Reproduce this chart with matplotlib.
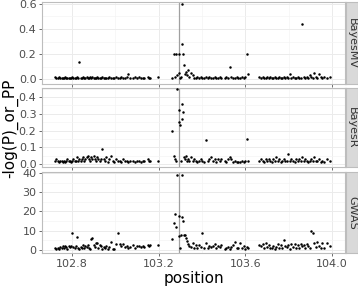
import numpy as np
import matplotlib
matplotlib.use("Agg")
import matplotlib.pyplot as plt
from matplotlib.ticker import MultipleLocator

# SNP positions (Mb), shared by the three methods
position = [
    102.722, 102.728, 102.735, 102.741, 102.745, 102.752, 102.758, 102.763, 102.768, 102.774,
    102.779, 102.785, 102.790, 102.796, 102.801, 102.806, 102.812, 102.818, 102.823, 102.829,
    102.834, 102.840, 102.846, 102.851, 102.857, 102.862, 102.868, 102.873, 102.879, 102.884,
    102.889, 102.894, 102.900, 102.905, 102.911, 102.917, 102.922, 102.928, 102.934, 102.940,
    102.946, 102.952, 102.958, 102.965, 102.972, 102.980, 102.988, 102.996, 103.004, 103.012,
    103.020, 103.028, 103.036, 103.044, 103.052, 103.060, 103.070, 103.080, 103.090,
    103.102, 103.110, 103.118, 103.126, 103.134, 103.150, 103.156, 103.162, 103.196,
    103.262, 103.270, 103.276, 103.282, 103.287, 103.292, 103.296, 103.300, 103.303, 103.306,
    103.309, 103.312, 103.316, 103.320, 103.325, 103.330, 103.336, 103.342,
    103.350, 103.357, 103.364, 103.371, 103.378, 103.386, 103.394, 103.402, 103.410, 103.418,
    103.426, 103.434, 103.442, 103.450, 103.458, 103.466, 103.474, 103.482, 103.490, 103.505,
    103.512, 103.520, 103.528, 103.536, 103.544, 103.552, 103.560, 103.568, 103.576, 103.584,
    103.592, 103.600, 103.608, 103.614,
    103.665, 103.672, 103.680, 103.687, 103.694, 103.701, 103.708, 103.715, 103.722, 103.729,
    103.736, 103.743, 103.750, 103.757, 103.764, 103.771, 103.778, 103.785, 103.792, 103.799,
    103.806, 103.813, 103.820, 103.827, 103.834, 103.841, 103.848, 103.855, 103.862, 103.869,
    103.876, 103.883, 103.890, 103.897, 103.904, 103.911, 103.918, 103.925, 103.932, 103.940,
    103.948, 103.956, 103.965, 103.975, 103.990,
]

bayes_mv = [
    0.02, 0.01, 0.01, 0.02, 0.01, 0.01, 0.01, 0.01, 0.02, 0.01,
    0.01, 0.01, 0.01, 0.01, 0.02, 0.01, 0.01, 0.01, 0.02, 0.01,
    0.14, 0.01, 0.01, 0.02, 0.01, 0.01, 0.02, 0.01, 0.01, 0.02,
    0.01, 0.02, 0.01, 0.01, 0.01, 0.02, 0.01, 0.01, 0.01, 0.02,
    0.01, 0.01, 0.01, 0.01, 0.02, 0.01, 0.01, 0.01, 0.02, 0.01,
    0.01, 0.02, 0.01, 0.01, 0.02, 0.04, 0.01, 0.01, 0.02,
    0.01, 0.02, 0.01, 0.01, 0.01, 0.02, 0.01, 0.01, 0.02,
    0.01, 0.20, 0.02, 0.20, 0.03, 0.20, 0.05, 0.01, 0.02, 0.60,
    0.28, 0.20, 0.11, 0.04, 0.06, 0.03, 0.07, 0.02,
    0.05, 0.03, 0.01, 0.01, 0.02, 0.01, 0.02, 0.01, 0.01, 0.02,
    0.01, 0.02, 0.01, 0.01, 0.02, 0.01, 0.01, 0.02, 0.01, 0.01,
    0.02, 0.01, 0.10, 0.02, 0.01, 0.01, 0.02, 0.01, 0.01, 0.02,
    0.01, 0.02, 0.20, 0.04,
    0.02, 0.01, 0.02, 0.01, 0.01, 0.02, 0.01, 0.02, 0.01, 0.01,
    0.02, 0.01, 0.01, 0.02, 0.01, 0.01, 0.02, 0.01, 0.02, 0.01,
    0.04, 0.01, 0.02, 0.01, 0.01, 0.02, 0.01, 0.01, 0.44, 0.02,
    0.01, 0.02, 0.01, 0.03, 0.02, 0.01, 0.05, 0.02, 0.01, 0.04,
    0.02, 0.01, 0.02, 0.01, 0.02,
]

bayes_r = [
    0.02, 0.03, 0.02, 0.01, 0.02, 0.02, 0.01, 0.02, 0.01, 0.02,
    0.03, 0.02, 0.02, 0.01, 0.02, 0.03, 0.02, 0.02, 0.04, 0.02,
    0.03, 0.02, 0.03, 0.04, 0.02, 0.03, 0.04, 0.05, 0.03, 0.02,
    0.04, 0.03, 0.05, 0.03, 0.02, 0.04, 0.03, 0.02, 0.03, 0.09,
    0.03, 0.02, 0.04, 0.01, 0.03, 0.05, 0.02, 0.01, 0.03, 0.02,
    0.02, 0.01, 0.03, 0.02, 0.02, 0.01, 0.02, 0.02, 0.01,
    0.02, 0.02, 0.01, 0.02, 0.02, 0.03, 0.02, 0.02, 0.02,
    0.20, 0.05, 0.03, 0.02, 0.45, 0.25, 0.32, 0.23, 0.02, 0.36,
    0.27, 0.31, 0.04, 0.03, 0.05, 0.02, 0.03, 0.02,
    0.04, 0.02, 0.03, 0.02, 0.01, 0.02, 0.03, 0.02, 0.01, 0.145,
    0.02, 0.03, 0.04, 0.02, 0.03, 0.01, 0.03, 0.02, 0.03, 0.02,
    0.01, 0.03, 0.04, 0.03, 0.01, 0.02, 0.01, 0.01, 0.01, 0.02,
    0.01, 0.02, 0.15, 0.02,
    0.02, 0.03, 0.02, 0.01, 0.03, 0.02, 0.03, 0.02, 0.01, 0.03,
    0.02, 0.04, 0.02, 0.03, 0.01, 0.02, 0.03, 0.02, 0.02, 0.06,
    0.02, 0.03, 0.02, 0.01, 0.03, 0.02, 0.03, 0.02, 0.04, 0.02,
    0.03, 0.02, 0.01, 0.02, 0.03, 0.02, 0.04, 0.02, 0.02, 0.03,
    0.01, 0.02, 0.01, 0.03, 0.02,
]

gwas = [
    0.8, 0.3, 1.2, 0.6, 1.5, 0.9, 1.8, 1.1, 2.0, 1.4,
    0.7, 1.9, 1.3, 2.2, 8.8, 1.6, 0.9, 2.1, 6.5, 1.0,
    0.5, 1.7, 1.2, 2.3, 0.8, 1.9, 1.4, 2.6, 1.1, 0.7,
    5.5, 6.0, 2.4, 1.5, 3.5, 3.8, 1.2, 2.8, 1.9, 0.6,
    1.4, 0.9, 2.0, 0.4, 1.3, 4.0, 0.6, 0.3, 2.9, 8.6,
    3.1, 1.8, 3.3, 1.4, 2.2, 0.8, 1.6, 2.4, 1.1,
    1.8, 2.1, 1.5, 2.0, 1.7, 2.3, 1.9, 2.5, 2.6,
    5.5, 14.0, 18.5, 12.0, 39.0, 17.5, 7.0, 1.0, 7.5, 39.0,
    17.0, 15.0, 7.8, 7.5, 6.0, 4.5, 3.0, 2.0,
    1.5, 3.8, 1.2, 2.5, 1.0, 2.8, 1.6, 8.8, 1.1, 3.5,
    0.9, 2.2, 1.4, 1.8, 3.0, 0.8, 2.0, 1.3, 2.5, 0.6,
    1.0, 1.7, 0.5, 1.4, 2.3, 4.0, 1.2, 0.8, 3.5, 1.1,
    1.9, 0.7, 1.5, 1.0,
    2.5, 1.8, 3.0, 0.9, 3.4, 1.5, 2.7, 0.8, 1.2, 2.0,
    0.6, 1.6, 3.2, 1.1, 2.4, 0.9, 5.0, 2.1, 1.4, 2.8,
    0.7, 2.9, 1.3, 3.1, 1.0, 2.6, 0.8, 3.0, 1.9, 2.5,
    1.2, 3.0, 2.2, 0.9, 10.0, 9.0, 3.5, 1.4, 4.0, 2.0,
    0.8, 3.6, 1.2, 3.5, 2.0,
]

methods = ["BayesMV", "BayesR", "GWAS"]
series = [bayes_mv, bayes_r, gwas]
ylims = [(-0.04, 0.616), (-0.018, 0.454), (-1.6, 40.5)]
major = [0.2, 0.1, 10]
minor = [0.1, 0.05, 5]

fig = plt.figure(figsize=(3.58, 2.88), dpi=100)
W, H = 358, 288
left, right = 42, 345
panels = [(2, 84), (88, 167), (172, 253)]

for i, (top, bot) in enumerate(panels):
    ax = fig.add_axes([left / W, 1 - bot / H, (right - left) / W, (bot - top) / H])
    ax.set_facecolor("white")
    ax.set_xlim(102.662, 104.06)
    ax.set_ylim(*ylims[i])
    ax.xaxis.set_major_locator(MultipleLocator(0.4))
    ax.xaxis.set_minor_locator(MultipleLocator(0.2))
    ax.yaxis.set_major_locator(MultipleLocator(major[i]))
    ax.yaxis.set_minor_locator(MultipleLocator(minor[i]))
    ax.grid(which="major", color="#EBEBEB", lw=0.7)
    ax.grid(which="minor", color="#F4F4F4", lw=0.5)
    ax.set_axisbelow(True)
    for s in ax.spines.values():
        s.set_color("#BDBDBD")
        s.set_linewidth(0.8)
    ax.axvline(103.295, color="#A0A0A0", lw=0.9, zorder=1)
    ax.scatter(position, series[i], s=3.2, color="black", linewidths=0, zorder=3)
    ax.tick_params(which="major", length=2.5, width=0.6, color="#555555",
                   labelsize=8, labelcolor="#4D4D4D", pad=1.5)
    ax.tick_params(which="minor", length=0)
    if i == 2:
        ax.set_xticklabels([f"{v:.1f}" for v in ax.get_xticks()])
    else:
        ax.tick_params(axis="x", labelbottom=False)
    if i < 2:
        ax.yaxis.set_major_formatter(plt.FuncFormatter(lambda v, p: f"{v:.1f}"))
    else:
        ax.yaxis.set_major_formatter(plt.FuncFormatter(lambda v, p: f"{v:.0f}"))

    # facet strip on the right
    sx = fig.add_axes([(right + 1) / W, 1 - bot / H, 12 / W, (bot - top) / H])
    sx.set_facecolor("#D9D9D9")
    sx.set_xticks([])
    sx.set_yticks([])
    for s in sx.spines.values():
        s.set_color("#BDBDBD")
        s.set_linewidth(0.8)
    sx.text(0.5, 0.5, methods[i], rotation=270, ha="center", va="center",
            fontsize=8, color="#333333", transform=sx.transAxes)

fig.text(10 / W, 1 - 128 / H, "-log(P)_or_PP", rotation=90, ha="center", va="center",
         fontsize=11, color="black")
fig.text((left + right) / 2 / W, 1 - 278 / H, "position", ha="center", va="center",
         fontsize=11, color="black")

fig.savefig("out.png", dpi=100)
